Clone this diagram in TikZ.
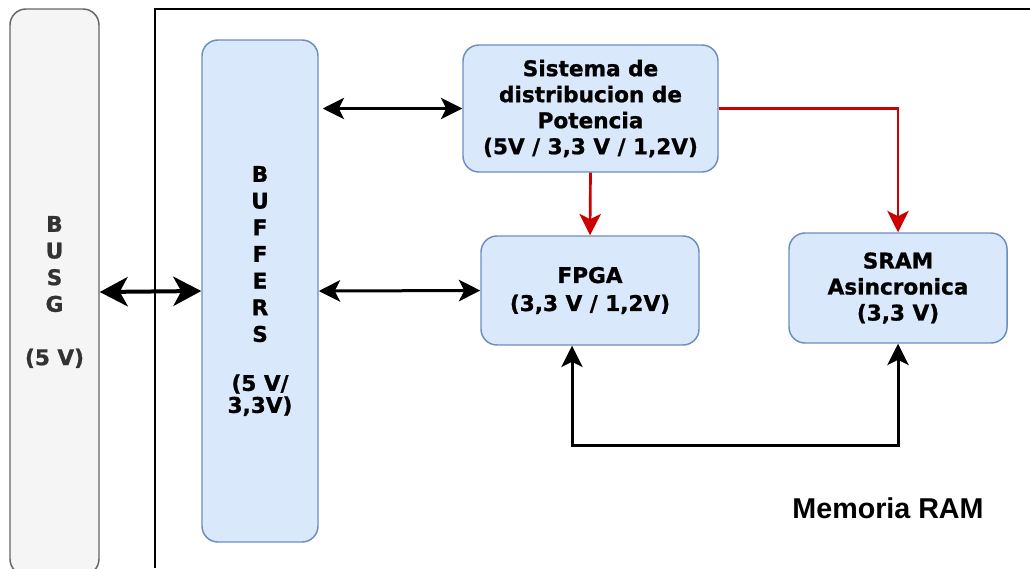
\documentclass[tikz,border=0pt]{standalone}
\usepackage{fontspec}
\setmainfont{DejaVu Sans}[BoldFeatures={FakeBold=1}]
\newfontfamily\memfont{Liberation Sans}
\usetikzlibrary{arrows.meta}
\definecolor{bluefill}{HTML}{DAE8FC}
\definecolor{bluestroke}{HTML}{6C8EBF}
\definecolor{grayfill}{HTML}{F5F5F5}
\definecolor{graystroke}{HTML}{666666}
\definecolor{graytext}{HTML}{333333}
\definecolor{redline}{HTML}{CC0000}
\tikzset{
  midtip/.tip={Stealth[length=16pt,width=16pt,inset=4pt]},
  bigtip/.tip={Stealth[length=21pt,width=22pt,inset=6pt]},
  bluebox/.style={draw=bluestroke,fill=bluefill,line width=1.1pt,rounded corners=12pt,
    align=center,inner sep=0pt,font=\fontsize{16.2}{19.5}\selectfont\bfseries},
  tallbox/.style={bluebox,font=\fontsize{16.2}{20}\selectfont\bfseries},
  graybox/.style={draw=graystroke,fill=grayfill,line width=1.1pt,rounded corners=12pt,
    align=center,inner sep=0pt,text=graytext,font=\fontsize{16.2}{20}\selectfont\bfseries},
  bidir/.style={line width=2.25pt,arrows={midtip-midtip}},
  bigbidir/.style={line width=3pt,arrows={bigtip-bigtip}},
  powerline/.style={line width=2pt,draw=redline,arrows={-midtip},fill=none},
  frameline/.style={line width=1.2pt},
}
\begin{document}
\begin{tikzpicture}[x=0.75pt,y=-0.75pt]
\useasboundingbox (0,0) rectangle (1030,568);
\fill[white] (0,0) rectangle (1030,568);

% container frame (visible sides)
\coordinate (frameBL) at (155,568);
\coordinate (frameTL) at (155,9);
\coordinate (frameTR) at (1030,9);
\draw[frameline] (frameBL) -- (frameTL) -- (frameTR);

\node[graybox,minimum width=66.75pt,minimum height=424.5pt] (busg) at (54.5,292)
  {B\\U\\S\\G\\[20pt](5 V)};

\node[tallbox,minimum width=87pt,minimum height=376.5pt] (buf) at (260,291)
  {B\\U\\F\\F\\E\\R\\S\\[16.75pt](5 V/\\[-3.5pt]3,3V)};

\node[bluebox,minimum width=191.25pt,minimum height=95.25pt] (sis) at (590.5,108.5)
  {Sistema de\\distribucion de\\Potencia\\(5V / 3,3 V / 1,2V)};

\node[bluebox,minimum width=163.5pt,minimum height=81.75pt] (fpga) at (590,290.5)
  {FPGA\\[1.5pt](3,3 V / 1,2V)};

\node[bluebox,minimum width=163.5pt,minimum height=82.5pt] (sram) at (898,288)
  {SRAM\\Asincronica\\(3,3 V)};

\node[font=\memfont\fontsize{21.5}{25}\selectfont\bfseries,inner sep=0pt] (memlabel) at (888,508) {Memoria RAM};

% connectors
\draw[bigbidir] (busg.east) -- (buf.west);
\draw[bidir] ([xshift=3pt]buf.east |- sis.west) -- (sis.west);
\draw[bidir] (buf.east) -- (fpga.west);
\draw[powerline] (sis.south) -- (fpga.north);
\draw[powerline] (sis.east) -| (sram.north);
\draw[bidir] ([xshift=-13.5pt]fpga.south) -- ++(0,100) -| (sram.south);
\end{tikzpicture}
\end{document}
